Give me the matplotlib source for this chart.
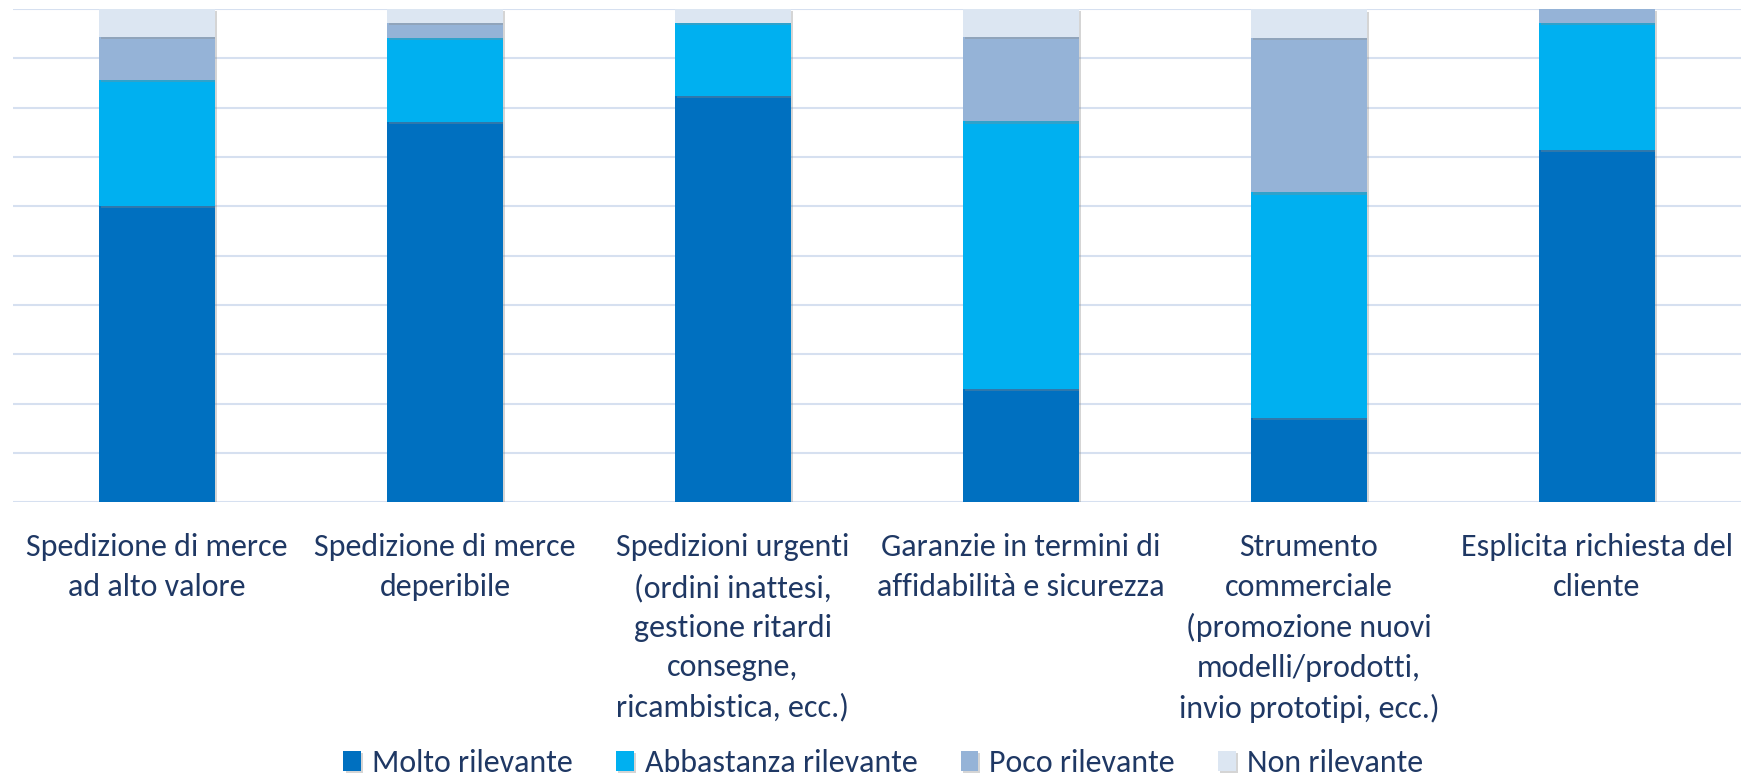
import matplotlib.pyplot as plt
import matplotlib.patheffects as pe
import numpy as np

plt.rcParams['font.family'] = ['Carlito', 'Liberation Sans Narrow', 'DejaVu Sans']

# dati (percentuali)
categorie = [
    'Spedizione di merce\nad alto valore',
    'Spedizione di merce\ndeperibile',
    'Spedizioni urgenti\n(ordini inattesi,\ngestione ritardi\nconsegne,\nricambistica, ecc.)',
    'Garanzie in termini di\naffidabilità e sicurezza',
    'Strumento\ncommerciale\n(promozione nuovi\nmodelli/prodotti,\ninvio prototipi, ecc.)',
    'Esplicita richiesta del\ncliente',
]
molto = [60.0, 77.1, 82.4, 22.9, 17.1, 71.4]
abbastanza = [25.7, 17.1, 14.7, 54.3, 45.7, 25.7]
poco = [8.6, 2.9, 0.0, 17.1, 31.4, 2.9]
non = [5.7, 2.9, 2.9, 5.7, 5.7, 0.0]

serie = ['Molto rilevante', 'Abbastanza rilevante', 'Poco rilevante', 'Non rilevante']
colori = ['#0070C0', '#00B0F0', '#95B3D7', '#DCE6F2']
testo = '#1F3864'

fig = plt.figure(figsize=(17.49, 7.75), dpi=100)
ax = fig.add_axes([0.0074, 0.352, 0.9880, 0.6364])

x = np.arange(len(categorie))
base = np.zeros(len(categorie))
ombra = [pe.SimplePatchShadow(offset=(1.5, -1.5), shadow_rgbFace='#888888', alpha=0.35), pe.Normal()]
for valori, nome, col in zip([molto, abbastanza, poco, non], serie, colori):
    barre = ax.bar(x, valori, width=0.4, bottom=base, color=col, label=nome, zorder=3)
    for b in barre:
        b.set_path_effects(ombra)
    base += np.array(valori)

ax.set_xlim(-0.5, len(categorie) - 0.5)
ax.set_ylim(0, 100)
ax.set_yticks(np.arange(0, 101, 10))
ax.yaxis.grid(True, color='#D6E0F0', linewidth=1.5, zorder=0)
ax.tick_params(axis='y', left=False, labelleft=False)
ax.tick_params(axis='x', bottom=False, pad=19)
ax.set_xticks(x)
ax.set_xticklabels(categorie, fontsize=23, color=testo, linespacing=1.5, va='top')
for s in ax.spines.values():
    s.set_visible(False)

fig.legend(loc='lower center', bbox_to_anchor=(0.505, -0.04), ncol=4, frameon=False,
           fontsize=23, labelcolor=testo, handlelength=0.55, handleheight=0.55,
           handletextpad=0.35, columnspacing=1.35)

fig.savefig('out.png', dpi=100)
